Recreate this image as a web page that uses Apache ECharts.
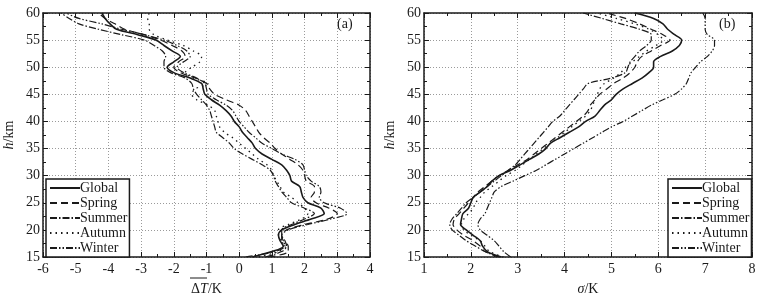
<!DOCTYPE html>
<html>
<head>
<meta charset="utf-8">
<script src="https://cdn.jsdelivr.net/npm/echarts@6/dist/echarts.min.js"></script>
<style>
  html, body { margin: 0; padding: 0; background: #fff; }
  #container { width: 764px; height: 301px; }
</style>
</head>
<body>
<div id="container"></div>
<script>
// heights (km) shared by every curve
var heights = [15,16,17,18,19,20,21,22,23,24,25,26,27,28,29,30,31,32,33,34,35,36,37,38,39,40,
               41,42,43,44,45,46,47,48,49,50,51,52,53,54,55,56,57,58,59,60];

var seriesNames = ['Global', 'Spring', 'Summer', 'Autumn', 'Winter'];

// panel (a): mean deviation dT (K)
var dtGlobal = [0.4,1.0,1.35,1.25,1.2,1.3,1.7,2.2,2.6,2.5,2.1,1.95,1.9,1.85,1.6,1.55,1.45,1.3,1.0,0.7,0.5,0.4,0.25,0.1,0.0,-0.15,
                -0.25,-0.4,-0.6,-0.85,-1.05,-1.1,-1.15,-1.5,-2.0,-2.2,-2.0,-1.8,-2.05,-2.3,-2.55,-3.1,-3.75,-3.95,-4.1,-4.2];
var dtSpring = [0.9,1.5,1.5,1.35,1.3,1.45,2.0,2.7,3.0,2.75,2.35,2.2,2.3,2.3,2.05,2.0,1.95,1.8,1.55,1.3,1.1,0.95,0.75,0.6,0.5,0.4,
                0.3,0.2,0.0,-0.4,-0.75,-0.9,-1.0,-1.35,-1.8,-2.0,-1.85,-1.65,-1.75,-2.05,-2.4,-2.9,-3.5,-3.8,-4.1,-4.3];
var dtSummer = [0.8,1.3,1.45,1.4,1.3,1.3,1.6,2.0,2.3,2.0,1.6,1.45,1.3,1.2,1.1,1.05,0.95,0.7,0.4,0.1,-0.15,-0.3,-0.5,-0.7,-0.75,-0.8,
                -0.85,-0.9,-1.0,-1.15,-1.3,-1.4,-1.45,-1.65,-2.1,-2.3,-2.3,-2.25,-2.35,-2.6,-2.9,-3.6,-4.3,-4.9,-5.2,-5.45];
var dtAutumn = [0.6,1.2,1.45,1.3,1.2,1.2,1.5,1.9,2.1,2.0,1.8,1.6,1.35,1.25,1.15,1.05,1.0,0.85,0.6,0.4,0.2,0.0,-0.2,-0.45,-0.6,-0.65,
                -0.7,-0.75,-0.95,-1.3,-1.45,-1.35,-0.95,-1.4,-1.65,-1.45,-1.2,-1.15,-1.4,-1.7,-2.2,-2.6,-2.75,-2.75,-2.8,-2.75];
var dtWinter = [0.2,1.1,1.4,1.3,1.3,1.5,2.1,2.8,3.3,3.1,2.6,2.45,2.5,2.45,2.2,2.05,2.0,1.95,1.7,1.3,1.0,0.7,0.5,0.3,0.15,0.0,
                -0.1,-0.2,-0.4,-0.7,-0.95,-1.0,-1.05,-1.3,-1.7,-1.9,-1.7,-1.5,-1.6,-1.9,-2.3,-2.9,-3.6,-4.2,-4.9,-5.3];

// panel (b): standard deviation sigma (K)
var sdGlobal = [2.65,2.35,2.25,2.2,2.05,1.9,1.78,1.8,1.83,1.95,2.0,2.05,2.2,2.35,2.45,2.6,2.85,3.05,3.25,3.45,3.6,3.7,3.9,4.1,4.3,4.45,
                4.65,4.75,4.85,5.0,5.1,5.25,5.45,5.65,5.8,5.9,5.9,6.05,6.3,6.45,6.5,6.35,6.2,6.1,5.9,5.5];
var sdSpring = [2.6,2.3,2.2,2.05,1.85,1.7,1.62,1.65,1.75,1.85,1.95,2.05,2.15,2.3,2.45,2.6,2.8,3.0,3.2,3.35,3.5,3.65,3.8,3.95,4.1,4.25,
                4.4,4.5,4.55,4.65,4.75,4.9,5.05,5.25,5.4,5.5,5.55,5.65,5.85,6.05,6.25,6.1,5.85,5.6,5.3,4.9];
var sdSummer = [2.6,2.3,2.1,1.9,1.75,1.6,1.55,1.6,1.7,1.8,1.9,2.05,2.2,2.35,2.5,2.65,2.8,2.95,3.05,3.15,3.25,3.35,3.45,3.55,3.65,3.75,
                3.9,4.0,4.1,4.2,4.3,4.4,4.5,5.0,5.3,5.35,5.4,5.5,5.6,5.75,5.85,5.85,5.6,5.2,4.8,4.4];
var sdAutumn = [2.7,2.4,2.3,2.2,2.0,1.85,1.8,1.85,1.95,2.05,2.1,2.2,2.3,2.45,2.6,2.75,2.95,3.1,3.25,3.4,3.55,3.7,3.85,4.0,4.15,4.3,
                4.45,4.55,4.6,4.65,4.7,4.75,4.85,5.05,5.2,5.3,5.45,5.6,5.75,5.95,6.1,6.0,5.8,5.5,5.1,4.7];
var sdWinter = [2.85,2.7,2.6,2.5,2.35,2.2,2.15,2.2,2.3,2.35,2.4,2.45,2.5,2.65,2.9,3.15,3.4,3.6,3.8,4.0,4.2,4.4,4.6,4.8,5.0,5.25,
                5.45,5.65,5.85,6.1,6.35,6.5,6.6,6.65,6.7,6.8,6.9,7.05,7.15,7.2,7.2,7.05,7.0,7.0,7.0,6.95];

var dtAll = [dtGlobal, dtSpring, dtSummer, dtAutumn, dtWinter];
var sdAll = [sdGlobal, sdSpring, sdSummer, sdAutumn, sdWinter];

var dashes = ['solid', [7, 4], [7, 2, 1.5, 2], [1.5, 4], [7, 2, 1.5, 2, 1.5, 2]];
var widths = [1.6, 1.2, 1.2, 1.3, 1.2];

var FONT = 'Liberation Serif';
var INK = '#1a1a1a';

function pairs(vals) {
    var out = [];
    for (var i = 0; i < heights.length; i++) {
        out.push([vals[i], heights[i]]);
    }
    return out;
}

function xAxisPair(gi, min, max, name) {
    var base = {
        gridIndex: gi, type: 'value', min: min, max: max, interval: 1,
        axisLine: { show: true, onZero: false, lineStyle: { color: INK, width: 1.5 } },
        axisTick: { inside: true, length: 5, lineStyle: { color: INK } },
        minorTick: { show: true, splitNumber: 2, length: 3, lineStyle: { color: INK } }
    };
    var bottom = Object.assign({}, base, {
        position: 'bottom',
        axisLabel: { color: INK, fontFamily: FONT, fontSize: 14, margin: 5 },
        splitLine: { show: true, lineStyle: { color: '#9a9a9a', type: [1, 2], width: 1 } },
        name: name, nameLocation: 'middle', nameGap: 25
    });
    var top = Object.assign({}, base, {
        position: 'top', axisLabel: { show: false }, splitLine: { show: false }
    });
    return [bottom, top];
}

function yAxisPair(gi) {
    var base = {
        gridIndex: gi, type: 'value', min: 15, max: 60, interval: 5,
        axisLine: { show: true, onZero: false, lineStyle: { color: INK, width: 1.5 } },
        axisTick: { inside: true, length: 5, lineStyle: { color: INK } },
        minorTick: { show: true, splitNumber: 2, length: 3, lineStyle: { color: INK } }
    };
    var left = Object.assign({}, base, {
        position: 'left',
        axisLabel: { color: INK, fontFamily: FONT, fontSize: 14, margin: 3 },
        splitLine: { show: true, lineStyle: { color: '#9a9a9a', type: [1, 2], width: 1 } },
        name: '{i|h}{n|/km}', nameLocation: 'middle', nameGap: 27, nameRotate: 90,
        nameTextStyle: {
            rich: {
                i: { fontFamily: FONT, fontSize: 14, fontStyle: 'italic', color: INK },
                n: { fontFamily: FONT, fontSize: 14, color: INK }
            }
        }
    });
    var right = Object.assign({}, base, {
        position: 'right', axisLabel: { show: false }, splitLine: { show: false }
    });
    return [left, right];
}

var xa = xAxisPair(0, -6, 4, '{n|Δ}{i|T}{n|/K}');
var xb = xAxisPair(1, 1, 8, '{i|σ}{n|/K}');
var nameRich = {
    rich: {
        i: { fontFamily: FONT, fontSize: 14, fontStyle: 'italic', color: INK },
        n: { fontFamily: FONT, fontSize: 14, color: INK }
    }
};
xa[0].nameTextStyle = nameRich;
xb[0].nameTextStyle = nameRich;
var ya = yAxisPair(0);
var yb = yAxisPair(1);

var series = [];
for (var s = 0; s < seriesNames.length; s++) {
    series.push({
        name: seriesNames[s], type: 'line', xAxisIndex: 0, yAxisIndex: 0,
        data: pairs(dtAll[s]), symbol: 'none', smooth: 0.3, z: s === 0 ? 5 : 3,
        itemStyle: { color: INK },
        lineStyle: { color: INK, width: widths[s], type: dashes[s] }
    });
    series.push({
        name: seriesNames[s], type: 'line', xAxisIndex: 2, yAxisIndex: 2,
        data: pairs(sdAll[s]), symbol: 'none', smooth: 0.3, z: s === 0 ? 5 : 3,
        itemStyle: { color: INK },
        lineStyle: { color: INK, width: widths[s], type: dashes[s] }
    });
}

function legendAt(left) {
    return {
        left: left, top: 179, orient: 'vertical', data: seriesNames,
        itemWidth: 30, itemHeight: 8, itemGap: 1, padding: [2, 2, 2, 3],
        borderColor: INK, borderWidth: 1.5, backgroundColor: '#fff',
        selectedMode: false,
        itemStyle: { opacity: 0 },
        textStyle: { fontFamily: FONT, fontSize: 14, lineHeight: 13.5, color: INK, padding: [0, 0, 0, -5] }
    };
}

var dom = document.getElementById('container');
var myChart = echarts.init(dom, null, { renderer: 'canvas' });
var option = {
    animation: false,
    backgroundColor: '#fff',
    grid: [
        { left: 43, top: 13, width: 327, height: 244 },
        { left: 424, top: 13, width: 328, height: 244 }
    ],
    xAxis: [xa[0], xa[1], xb[0], xb[1]],
    yAxis: [ya[0], ya[1], yb[0], yb[1]],
    legend: [legendAt(46), legendAt(668)],
    series: series,
    graphic: [
        { type: 'text', left: 337, top: 17, style: { text: '(a)', fontFamily: FONT, fontSize: 14, fill: INK } },
        { type: 'text', left: 719, top: 17, style: { text: '(b)', fontFamily: FONT, fontSize: 14, fill: INK } },
        // overline over the mean ΔT
        { type: 'line', shape: { x1: 190, y1: 278, x2: 207, y2: 278 }, style: { stroke: INK, lineWidth: 1 } }
    ]
};
myChart.setOption(option, true);
</script>
</body>
</html>
